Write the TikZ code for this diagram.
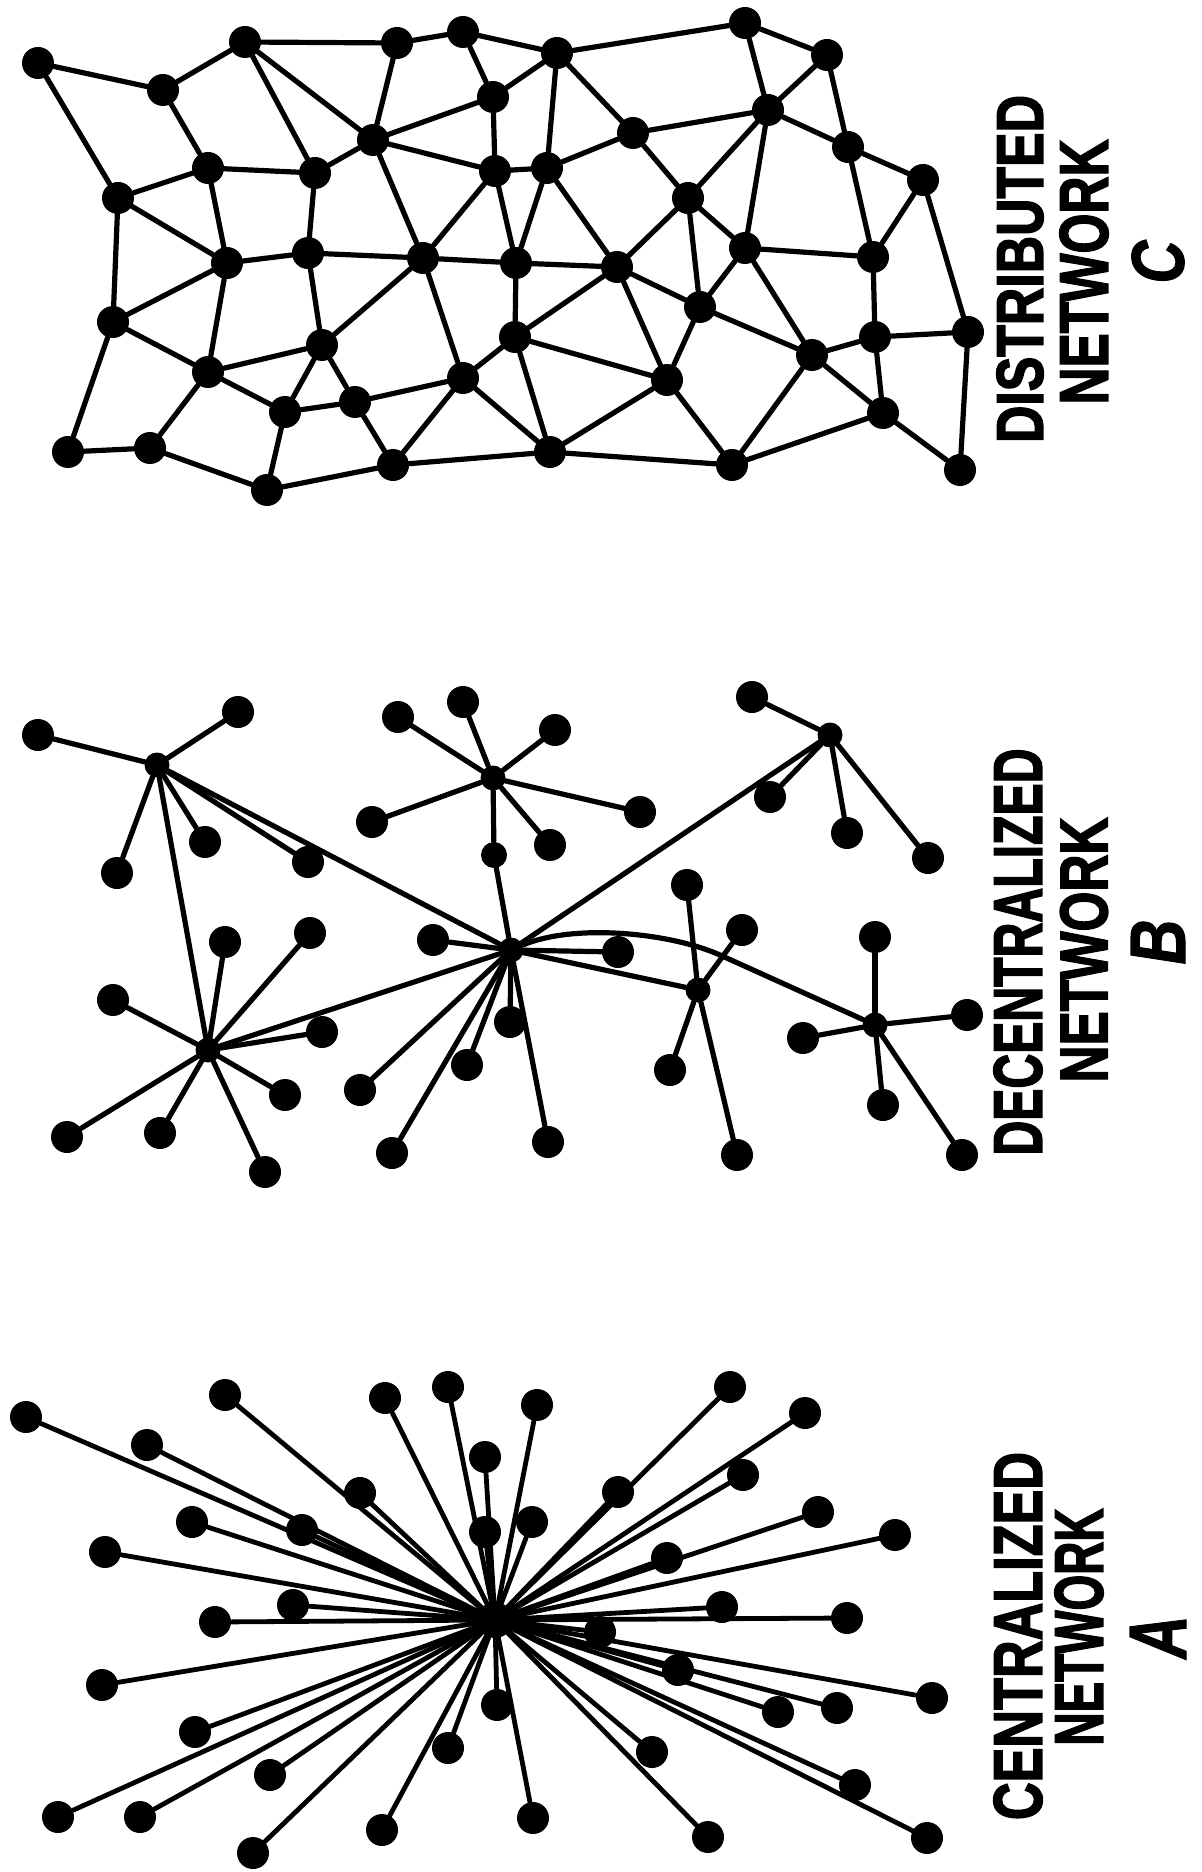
\documentclass[tikz,border=0pt]{standalone}
\usepackage{graphicx}
\usepackage{fontspec}
\setmainfont{Liberation Sans}
\newfontfamily\labfont[BoldFeatures={FakeBold=2.5},BoldItalicFeatures={FakeBold=1.5}]{Liberation Sans}
\begin{document}
\begin{tikzpicture}[x=0.5pt,y=-0.5pt,
  dot/.style={circle,fill=black,inner sep=0pt,minimum size=16pt},
  hub/.style={circle,fill=black,inner sep=0pt,minimum size=12.5pt},
  core/.style={circle,fill=black,inner sep=0pt,minimum size=18pt},
  link/.style={line width=2.6pt,line cap=round},
  spoke/.style={line width=2.4pt,line cap=round},
  lab/.style={rotate=90,inner sep=0pt,font=\labfont\bfseries}]
\fill[white] (0,0) rectangle (1201,1872);
\useasboundingbox (0,0) rectangle (1201,1872);

% ---------- distributed network (C) ----------
\foreach \nm/\px/\py in {c1/38/63, c2/163/90, c3/245/42, c4/397/43, c5/463/32,
  c6/493/97, c7/373/140, c8/208/168, c9/315/173, c10/118/198, c11/495/171,
  c12/227/263, c13/308/253, c14/423/258, c15/516/263, c16/113/322, c17/322/345,
  c18/208/372, c19/515/337, c20/463/378, c21/285/412, c22/355/402, c23/68/452,
  c24/150/448, c25/393/465, c26/267/490, c27/557/53, c28/745/23, c29/827/55,
  c30/768/110, c31/633/133, c32/848/147, c33/547/168, c34/923/180, c35/688/198,
  c36/617/267, c37/745/248, c38/873/257, c39/700/307, c40/875/337, c41/968/332,
  c42/812/355, c43/667/380, c44/883/413, c45/550/452, c46/732/465, c47/960/470}
  \node[dot] (\nm) at (\px,\py) {};

\foreach \u/\v in {c1/c2, c1/c10, c2/c3, c2/c8, c3/c4, c3/c9, c3/c7, c4/c5, c4/c7,
  c5/c6, c5/c27, c6/c27, c6/c7, c7/c11, c7/c9, c7/c14, c8/c10, c8/c9, c8/c12,
  c9/c13, c10/c12, c10/c16, c6/c11, c11/c14, c11/c15, c11/c33, c12/c13, c12/c16,
  c12/c18, c13/c14, c13/c17, c14/c15, c14/c17, c14/c20, c16/c18, c16/c23,
  c17/c18, c17/c21, c17/c22, c18/c21, c18/c24, c19/c20, c20/c22, c20/c25,
  c20/c45, c21/c22, c21/c26, c22/c25, c23/c24, c24/c26, c26/c25, c25/c45,
  c15/c19, c27/c28, c28/c29, c28/c30, c29/c30, c29/c32, c27/c31, c27/c33,
  c31/c30, c31/c33, c31/c35, c30/c35, c30/c32, c30/c37, c32/c34, c32/c38,
  c33/c15, c33/c36, c15/c36, c35/c36, c35/c39, c35/c37, c37/c39, c37/c38,
  c37/c42, c36/c39, c36/c19, c36/c43, c34/c38, c34/c41, c38/c40, c39/c43,
  c39/c42, c40/c41, c40/c42, c40/c44, c41/c47, c42/c44, c42/c46, c43/c45,
  c43/c46, c44/c46, c44/c47, c19/c43, c19/c45, c45/c46}
  \draw[link] (\u) -- (\v);

% ---------- decentralized network (B) ----------
\foreach \nm/\px/\py in {bh1/157/765, bh2/493/778, bh3/511/950, bh4/208/1050,
  bh5/830/735, bh6/698/990, bh7/875/1025}
  \node[hub] (\nm) at (\px,\py) {};
\node[dot,minimum size=13pt] (bs) at (494,855) {};

\foreach \nm/\px/\py in {
  p1/38/735, p2/238/712, p3/117/873, p4/205/842, p5/308/862,
  q1/398/717, q2/463/702, q3/372/822, q4/555/730, q5/640/812, q6/550/845,
  r1/433/940, r2/360/1090, r3/467/1065, r4/392/1153, r5/510/1022, r6/548/1142, r7/618/952,
  s1/225/942, s2/310/933, s3/113/1000, s4/322/1032, s5/285/1095, s6/67/1137, s7/160/1133, s8/265/1172,
  t1/752/697, t2/770/797, t3/847/833, t4/928/858,
  u1/687/885, u2/742/930, u3/670/1070, u4/737/1155,
  v1/875/937, v2/967/1015, v3/803/1038, v4/883/1105, v5/962/1155}
  \node[dot] (\nm) at (\px,\py) {};

\foreach \u/\v in {bh1/p1, bh1/p2, bh1/p3, bh1/p4, bh1/p5,
  bh2/q1, bh2/q2, bh2/q3, bh2/q4, bh2/q5, bh2/q6,
  bh3/r1, bh3/r2, bh3/r3, bh3/r4, bh3/r5, bh3/r6, bh3/r7,
  bh4/s1, bh4/s2, bh4/s3, bh4/s4, bh4/s5, bh4/s6, bh4/s7, bh4/s8,
  bh5/t1, bh5/t2, bh5/t3, bh5/t4,
  bh6/u1, bh6/u2, bh6/u3, bh6/u4,
  bh7/v1, bh7/v2, bh7/v3, bh7/v4, bh7/v5,
  bh1/bh4, bh1/bh3, bh4/bh3, bh5/bh3, bh6/bh3, bh2/bs, bs/bh3}
  \draw[link] (\u) -- (\v);
\coordinate (bend) at (720,955);
\draw[link] (bh3) .. controls (575,923) and (671,933) .. (bend) -- (bh7);

% ---------- centralized network (A) ----------
\node[core] (ac) at (495,1620) {};
\foreach \nm/\px/\py in {a1/26/1417, a2/147/1445, a3/225/1395, a4/385/1398,
  a5/448/1387, a6/485/1457, a7/360/1493, a8/302/1530, a9/192/1522, a10/105/1552,
  a11/485/1532, a12/293/1605, a13/215/1622, a14/102/1685, a15/195/1732,
  a16/58/1817, a17/140/1817, a18/270/1775, a19/253/1853, a20/497/1705,
  a21/448/1748, a22/382/1830, a23/537/1405, a24/532/1522, a25/730/1387,
  a26/805/1413, a27/618/1492, a28/743/1475, a29/818/1512, a30/667/1558,
  a31/895/1535, a32/722/1607, a33/847/1618, a34/600/1632, a35/678/1670,
  a36/932/1698, a37/778/1712, a38/837/1708, a39/652/1752, a40/855/1785,
  a41/927/1838, a42/708/1837, a43/533/1818}
  {\node[dot] (\nm) at (\px,\py) {};
   \draw[spoke] (ac) -- (\nm);}

% ---------- captions ----------
\node[lab] (tc1) at (1020,269) {\resizebox{174pt}{23pt}{DISTRIBUTED}};
\node[lab] (tc2) at (1084,272) {\resizebox{132.5pt}{24pt}{NETWORK}};
\node[lab] (tc3) at (1158,262) {\resizebox{21.5pt}{26pt}{\itshape C}};
\node[lab] (tb1) at (1018,952) {\resizebox{203.5pt}{24pt}{DECENTRALIZED}};
\node[lab] (tb2) at (1084,950) {\resizebox{132.5pt}{23.5pt}{NETWORK}};
\node[lab] (tb3) at (1158,942) {\resizebox{22.5pt}{27pt}{\itshape B}};
\node[lab] (ta1) at (1018,1636) {\resizebox{184pt}{24pt}{CENTRALIZED}};
\node[lab] (ta2) at (1079,1627) {\resizebox{118.5pt}{24pt}{NETWORK}};
\node[lab] (ta3) at (1158,1637) {\resizebox{21.5pt}{28pt}{\itshape A}};
\end{tikzpicture}
\end{document}
